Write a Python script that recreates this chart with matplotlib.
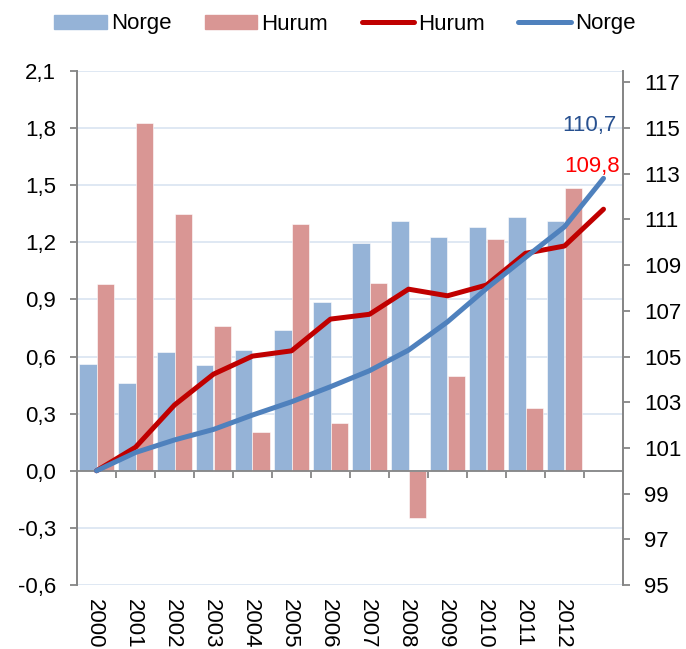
import matplotlib
matplotlib.use("Agg")
import matplotlib.pyplot as plt
import numpy as np
from matplotlib.patches import Patch
from matplotlib.lines import Line2D

plt.rcParams['font.family'] = ['Liberation Sans', 'DejaVu Sans']

years = ["2000", "2001", "2002", "2003", "2004", "2005", "2006",
         "2007", "2008", "2009", "2010", "2011", "2012", ""]

# annual growth (%), left axis
norge_bar = [0.56, 0.46, 0.625, 0.555, 0.633, 0.737, 0.885,
             1.198, 1.312, 1.23, 1.28, 1.333, 1.314]
hurum_bar = [0.98, 1.825, 1.35, 0.76, 0.206, 1.297, 0.25,
             0.987, -0.25, 0.50, 1.218, 0.329, 1.484]

# index (2000 = 100), right axis
hurum_idx = [100, 101.03, 102.88, 104.23, 105.02, 105.25, 106.64,
             106.85, 107.95, 107.66, 108.13, 109.52, 109.84, 111.45]
norge_idx = [100, 100.8, 101.35, 101.81, 102.44, 103.02, 103.68,
             104.38, 105.28, 106.52, 107.98, 109.34, 110.68, 112.8]

c_nb = "#95B3D7"
c_hb = "#D99694"
c_hl = "#C00000"
c_nl = "#4F81BD"
grey = "#868686"
fs = 16
lw = 3.6

fig = plt.figure(figsize=(6.86, 6.49), dpi=100)
ax = fig.add_axes([77/686, 1-585/649, 546/686, 514/649])
ax2 = ax.twinx()

x = np.arange(len(norge_bar))
w = 0.44
ax.bar(x - w/2, norge_bar, w, color=c_nb, edgecolor="white", linewidth=0.4, zorder=2)
ax.bar(x + w/2, hurum_bar, w, color=c_hb, edgecolor="white", linewidth=0.4, zorder=2)

xl = np.arange(len(hurum_idx))
ax2.plot(xl, hurum_idx, color=c_hl, lw=lw, solid_capstyle="round", solid_joinstyle="round")
ax2.plot(xl, norge_idx, color=c_nl, lw=lw, solid_capstyle="round", solid_joinstyle="round")

ax.set_xlim(-0.5, 13.5)
ax.set_ylim(-0.6, 2.1)
lt = np.round(np.arange(-0.6, 2.11, 0.3), 1)
ax.set_yticks(lt)
ax.set_yticklabels([f"{v:.1f}".replace(".", ",") for v in lt], fontsize=fs)
ax.yaxis.grid(True, color="#DCE6F2", lw=1.3, zorder=0)
ax.set_axisbelow(True)

ax2.set_ylim(95, 117.5)
rt = np.arange(95, 118, 2)
ax2.set_yticks(rt)
ax2.set_yticklabels([str(v) for v in rt], fontsize=fs)

for a in (ax, ax2):
    a.spines["top"].set_visible(False)
    a.spines["left"].set_color(grey)
    a.spines["right"].set_color(grey)
    a.spines["left"].set_linewidth(1.3)
    a.spines["right"].set_linewidth(1.3)
    a.tick_params(axis="y", colors=grey, length=5, width=1.3, labelcolor="black", pad=10)
ax2.spines["bottom"].set_visible(False)
ax.spines["bottom"].set_position(("data", 0))
ax.spines["bottom"].set_color(grey)
ax.spines["bottom"].set_linewidth(1.3)
ax.set_xticks(np.arange(0.5, 14, 1))
ax.tick_params(axis="x", direction="out", length=5, width=1.3, colors=grey, labelbottom=False)

for i, y in enumerate(years):
    ax.text(i - 0.05, -0.028, y, transform=ax.get_xaxis_transform(), rotation=-90,
            ha="center", va="top", fontsize=16)

ax2.text(13.34, 115.13, "110,7", color="#27508F", fontsize=fs, ha="right", va="center")
ax2.text(13.42, 113.34, "109,8", color="#FF0000", fontsize=fs, ha="right", va="center")

handles = [Patch(color=c_nb, label="Norge"), Patch(color=c_hb, label="Hurum"),
           Line2D([], [], color=c_hl, lw=lw, solid_capstyle="round", label="Hurum"),
           Line2D([], [], color=c_nl, lw=lw, solid_capstyle="round", label="Norge")]
fig.legend(handles=handles, loc="center", bbox_to_anchor=(345/686, 1-24/649), ncol=4,
           frameon=False, fontsize=fs, handlelength=2.35, handleheight=0.6,
           handletextpad=0.2, columnspacing=1.5, borderaxespad=0)

fig.savefig("out.png", dpi=100)
